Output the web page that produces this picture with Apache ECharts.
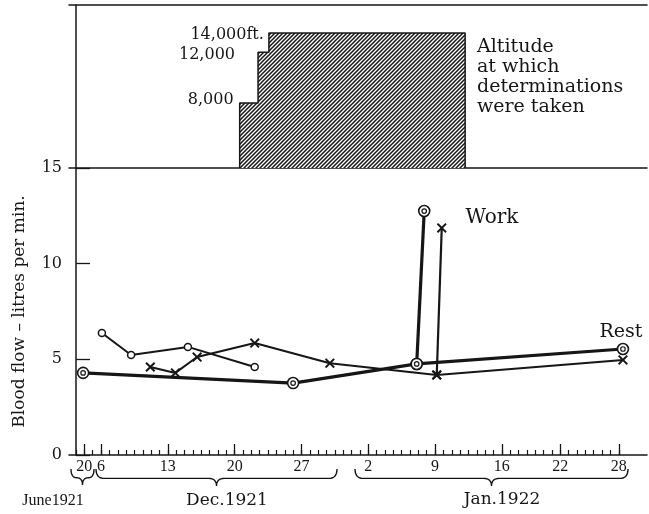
<!DOCTYPE html>
<html><head><meta charset="utf-8">
<script src="https://cdn.jsdelivr.net/npm/echarts@6/dist/echarts.min.js"></script>
<style>html,body{margin:0;padding:0;background:#fff}#c{width:649px;height:514px}</style>
</head><body><div id="c"></div>
<script>
// Time axis is measured in tick units: one unit per small tick mark.
const TICK_LABELS = ['20', '6', '13', '20', '27', '2', '9', '16', '22', '28'];
const TICK_MAJOR  = [1, 3, 11, 19, 27, 35, 43, 51, 58, 65];
const TICK_FIRST = 0, TICK_LAST = 65;
const MONTHS = ['June1921', 'Dec.1921', 'Jan.1922'];

// Altitude (feet) held from each start position up to the next one
const ALT_START = [19.6, 21.8, 23.1];
const ALT_END = 46.6;
const ALT_FEET = [8000, 12000, 14000];
const ALT_LABELS = ['8,000', '12,000', '14,000ft.'];

// Blood flow, litres per minute - rest (double circles) with its work value
const REST_POS  = [0.85, 26.0, 40.8, 65.5];
const REST_FLOW = [4.29, 3.76, 4.76, 5.54];
const REST_WORK_POS = 41.7, REST_WORK_FLOW = 12.75;

// Crosses, with the work value
const CROSS_POS  = [8.9, 11.9, 14.5, 21.4, 30.4, 43.2, 65.5];
const CROSS_FLOW = [4.6, 4.29, 5.12, 5.85, 4.8, 4.18, 4.97];
const CROSS_WORK_POS = 43.8, CROSS_WORK_FLOW = 11.87;

// Small open circles
const RING_POS  = [3.1, 6.6, 13.4, 21.4];
const RING_FLOW = [6.38, 5.23, 5.65, 4.6];

const INK = '#161616';
const SERIF = 'DejaVu Serif';
const X_MIN = -0.84, X_MAX = 68.38;
const ALT_MIN = 4763, ALT_MAX = 17508;

function hatchPattern() {
  const c = document.createElement('canvas');
  c.width = 4; c.height = 4;
  const g = c.getContext('2d');
  g.fillStyle = '#fff'; g.fillRect(0, 0, 4, 4);
  g.strokeStyle = INK; g.lineWidth = 1.5;
  g.beginPath();
  g.moveTo(-1, 5); g.lineTo(5, -1);
  g.moveTo(-1, 1); g.lineTo(1, -1);
  g.moveTo(3, 5); g.lineTo(5, 3);
  g.stroke();
  return c;
}

const zip = (a, b) => a.map((v, i) => [v, b[i]]);

// Step outline of the altitude block
const altData = [[ALT_START[0], ALT_MIN]]
  .concat(zip(ALT_START, ALT_FEET))
  .concat([[ALT_END, ALT_FEET[ALT_FEET.length - 1]], [ALT_END, ALT_MIN]]);

// label placement per altitude level
const altLabelPlace = [
  { distance: 6, offset: [0, -3] },
  { distance: 23, offset: [0, 3] },
  { distance: 5, offset: [0, 2] }
];
const altLabelData = ALT_START.map((x, i) => ({
  value: [x, ALT_FEET[i]],
  label: Object.assign({ formatter: ALT_LABELS[i] }, altLabelPlace[i])
}));

const minorTicks = [];
for (let t = TICK_FIRST; t <= TICK_LAST; t++) minorTicks.push(t);

const ringSymbol = {
  symbol: 'circle', symbolSize: 11,
  itemStyle: { color: '#fff', borderColor: INK, borderWidth: 1.6 }
};
const crossPath = 'path://M0,1.4L1.4,0L5,3.6L8.6,0L10,1.4L6.4,5L10,8.6L8.6,10L5,6.4L1.4,10L0,8.6L3.6,5Z';

// Curly brace as a point list (opening downward to a central tip)
function brace(x1, x2, y0, d) {
  const xm = (x1 + x2) / 2, ym = y0 + d * 0.55, r = Math.min(8, (x2 - x1) / 4);
  const pts = [];
  const quad = (p0, c, p1) => {
    for (let i = 0; i <= 8; i++) {
      const t = i / 8, u = 1 - t;
      pts.push([u * u * p0[0] + 2 * u * t * c[0] + t * t * p1[0],
                u * u * p0[1] + 2 * u * t * c[1] + t * t * p1[1]]);
    }
  };
  quad([x1, y0], [x1, ym], [x1 + r, ym]);
  quad([xm - r, ym], [xm, ym], [xm, y0 + d]);
  quad([xm, y0 + d], [xm, ym], [xm + r, ym]);
  quad([x2 - r, ym], [x2, ym], [x2, y0]);
  return pts;
}
const braceEl = pts => ({ type: 'polyline', shape: { points: pts },
  style: { stroke: INK, lineWidth: 1.4, fill: null } });

const chart = echarts.init(document.getElementById('c'), null, { renderer: 'canvas' });
chart.setOption({
  animation: false,
  backgroundColor: '#fff',
  grid: [
    { left: 69, right: 2, top: 5, height: 163 },
    { left: 69, right: 2, top: 168, height: 287 }
  ],
  xAxis: [
    { gridIndex: 0, type: 'value', min: X_MIN, max: X_MAX, position: 'bottom',
      axisLine: { show: true, onZero: false, lineStyle: { color: INK, width: 1.5 } },
      axisTick: { show: false }, axisLabel: { show: false }, splitLine: { show: false } },
    { gridIndex: 0, type: 'value', min: X_MIN, max: X_MAX, position: 'top',
      axisLine: { show: true, onZero: false, lineStyle: { color: INK, width: 1.5 } },
      axisTick: { show: false }, axisLabel: { show: false }, splitLine: { show: false } },
    { gridIndex: 1, type: 'value', min: X_MIN, max: X_MAX, position: 'bottom',
      axisLine: { show: true, onZero: false, lineStyle: { color: INK, width: 1.5 } },
      axisTick: { show: true, inside: true, length: 5, customValues: minorTicks,
        lineStyle: { color: INK, width: 1.2 } },
      axisLabel: { show: false }, splitLine: { show: false } },
    { gridIndex: 1, type: 'value', min: X_MIN, max: X_MAX, position: 'bottom',
      axisLine: { show: false, onZero: false },
      axisTick: { show: true, inside: true, length: 11, customValues: TICK_MAJOR,
        lineStyle: { color: INK, width: 1.3 } },
      axisLabel: { show: true, customValues: TICK_MAJOR, margin: 4,
        formatter: v => TICK_LABELS[TICK_MAJOR.indexOf(v)],
        color: INK, fontFamily: 'Liberation Serif', fontSize: 16 },
      splitLine: { show: false } }
  ],
  yAxis: [
    { gridIndex: 0, type: 'log', logBase: 10, min: ALT_MIN, max: ALT_MAX,
      axisLine: { show: true, lineStyle: { color: INK, width: 1.5 } },
      axisTick: { show: false }, axisLabel: { show: false }, splitLine: { show: false } },
    { gridIndex: 1, type: 'value', min: 0, max: 15, interval: 5,
      name: 'Blood flow \u2013 litres per min.', nameLocation: 'middle', nameGap: 41,
      nameTextStyle: { fontFamily: SERIF, fontSize: 17, color: INK },
      axisLine: { show: true, lineStyle: { color: INK, width: 1.5 } },
      axisTick: { show: true, inside: true, length: 14, lineStyle: { color: INK, width: 1.3 } },
      axisLabel: { color: INK, fontFamily: SERIF, fontSize: 16, margin: 7 },
      splitLine: { show: false } }
  ],
  series: [
    { type: 'line', xAxisIndex: 0, yAxisIndex: 0, step: 'end', data: altData,
      symbol: 'none', silent: true,
      lineStyle: { color: INK, width: 1.5 },
      areaStyle: { color: { image: hatchPattern(), repeat: 'repeat' }, opacity: 1, origin: 'start' } },
    // altitude values written beside each step
    { type: 'scatter', xAxisIndex: 0, yAxisIndex: 0, data: altLabelData,
      symbolSize: 0.1, itemStyle: { color: INK, opacity: 1 }, silent: true,
      label: { show: true, position: 'left', color: INK, fontFamily: SERIF, fontSize: 16 } },

    { type: 'line', xAxisIndex: 2, yAxisIndex: 1, data: zip(RING_POS, RING_FLOW),
      lineStyle: { color: INK, width: 2 }, symbol: 'circle', symbolSize: 7,
      itemStyle: { color: '#fff', borderColor: INK, borderWidth: 1.5 }, z: 3 },

    { type: 'line', xAxisIndex: 2, yAxisIndex: 1, data: zip(CROSS_POS, CROSS_FLOW),
      lineStyle: { color: INK, width: 2 }, symbol: crossPath, symbolSize: 10,
      itemStyle: { color: INK }, z: 3 },
    { type: 'line', xAxisIndex: 2, yAxisIndex: 1,
      data: [[CROSS_POS[5], CROSS_FLOW[5]], [CROSS_WORK_POS, CROSS_WORK_FLOW]],
      lineStyle: { color: INK, width: 2.2 }, symbol: crossPath, symbolSize: 10,
      itemStyle: { color: INK }, z: 3 },

    Object.assign({ type: 'line', xAxisIndex: 2, yAxisIndex: 1, data: zip(REST_POS, REST_FLOW),
      lineStyle: { color: INK, width: 3.2 }, z: 4 }, ringSymbol),
    Object.assign({ type: 'line', xAxisIndex: 2, yAxisIndex: 1,
      data: [[REST_POS[2], REST_FLOW[2]], [REST_WORK_POS, REST_WORK_FLOW]],
      lineStyle: { color: INK, width: 3.2 }, z: 4 }, ringSymbol),
    // inner rings of the double circles
    { type: 'scatter', xAxisIndex: 2, yAxisIndex: 1,
      data: zip(REST_POS, REST_FLOW).concat([[REST_WORK_POS, REST_WORK_FLOW]]),
      symbol: 'circle', symbolSize: 4.5,
      itemStyle: { color: '#fff', borderColor: INK, borderWidth: 1.2, opacity: 1 }, z: 6 }
  ],
  graphic: [
    { type: 'text', x: 477, y: 37, style: {
      text: 'Altitude\nat which\ndeterminations\nwere taken',
      font: '19px "DejaVu Serif"', fill: INK, lineHeight: 20 } },
    { type: 'text', x: 492, y: 218, style: { text: 'Work', font: '20px "DejaVu Serif"',
      fill: INK, align: 'center', verticalAlign: 'middle' } },
    { type: 'text', x: 621, y: 332, style: { text: 'Rest', font: '19px "DejaVu Serif"',
      fill: INK, align: 'center', verticalAlign: 'middle' } },
    braceEl(brace(71, 94, 469, 16)),
    braceEl(brace(96, 337, 469, 17)),
    braceEl(brace(355, 628, 469, 17)),
    { type: 'text', x: 53, y: 501, style: { text: MONTHS[0], font: '16px "Liberation Serif"',
      fill: INK, align: 'center', verticalAlign: 'middle' } },
    { type: 'text', x: 227, y: 501, style: { text: MONTHS[1], font: '17px "DejaVu Serif"',
      fill: INK, align: 'center', verticalAlign: 'middle' } },
    { type: 'text', x: 502, y: 500, style: { text: MONTHS[2], font: '17px "DejaVu Serif"',
      fill: INK, align: 'center', verticalAlign: 'middle' } }
  ]
});
</script></body></html>
